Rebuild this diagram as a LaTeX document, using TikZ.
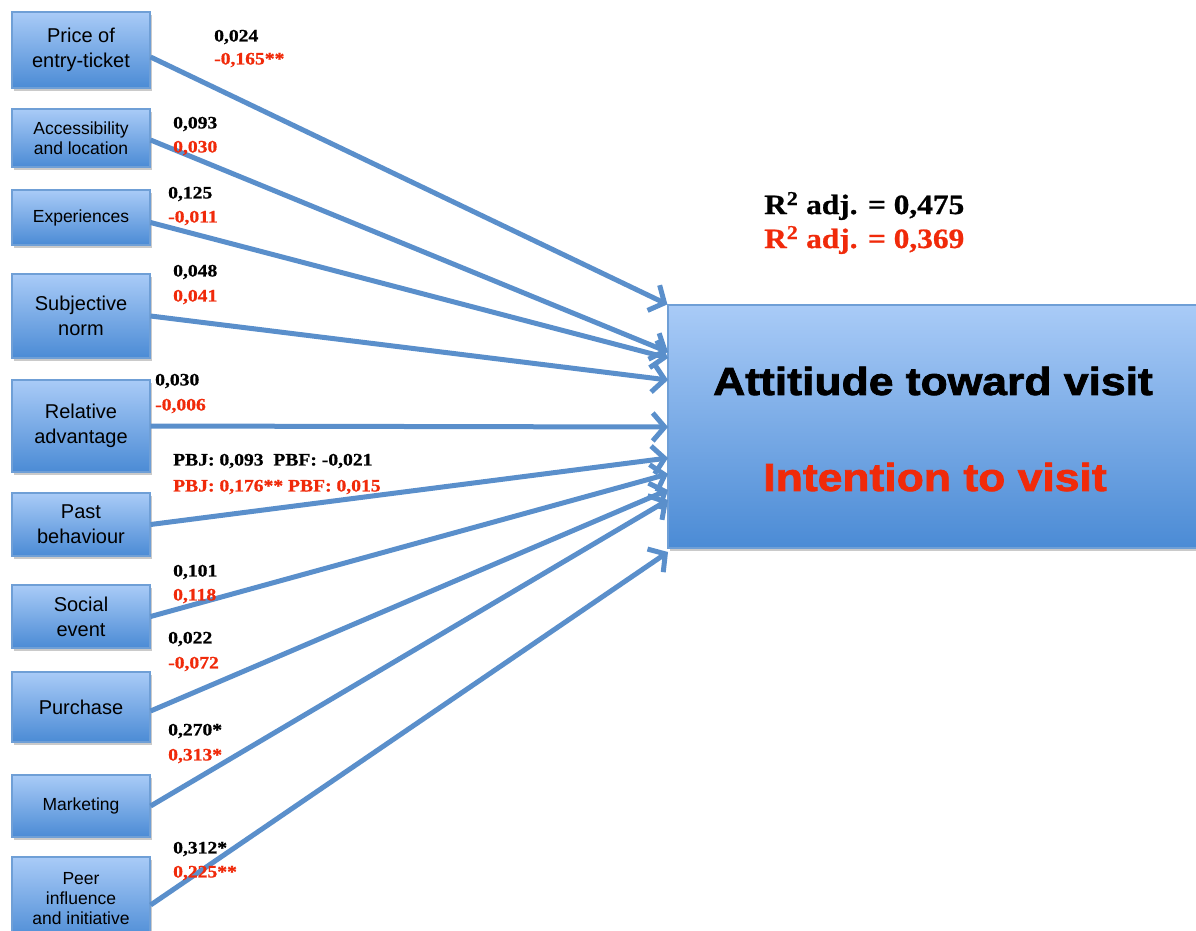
\documentclass[tikz,border=0pt]{standalone}
\usepackage{fontspec}
\setmainfont{Liberation Serif}
\setsansfont{Liberation Sans}
\newfontfamily\numfont[FakeStretch=1.12,BoldFeatures={FakeBold=0.8}]{Liberation Serif}
\newfontfamily\bigfont[FakeStretch=1.14,BoldFeatures={FakeBold=2}]{Liberation Sans}
\usetikzlibrary{arrows.meta,shadows}
\definecolor{boxtop}{HTML}{A9CBF7}
\definecolor{boxbot}{HTML}{4B8BD5}
\definecolor{boxline}{HTML}{6F9FD6}
\definecolor{arr}{HTML}{5A8FCB}
\definecolor{redt}{HTML}{F02A0A}
\begin{document}
\begin{tikzpicture}[x=1pt,y=-1pt,
  box/.style={draw=boxline, line width=1.2pt, top color=boxtop, bottom color=boxbot,
    minimum width=138pt, align=center, inner sep=0pt,
    font=\sffamily\fontsize{20}{25}\selectfont,
    drop shadow={shadow xshift=1.5pt, shadow yshift=-3pt, opacity=0.35, fill=black!60}},
  small/.style={font=\sffamily\fontsize{17.5}{20}\selectfont},
  link/.style={draw=arr, line width=5pt, -{Straight Barb[length=12pt,width=28pt,line width=5pt]}},
  num/.style={anchor=west, inner sep=0pt, font=\numfont\bfseries\fontsize{17.5}{20}\selectfont},
  rednum/.style={num, text=redt}]
\useasboundingbox (0,0) rectangle (1196,930);

% left boxes
\node[box, minimum height=76pt] (p1) at (81,50) {\rule{0pt}{5pt}Price of\\entry-ticket};
\node[box, small, minimum height=58pt] (p2) at (81,138) {Accessibility\\and location};
\node[box, small, minimum height=55pt] (p3) at (81,217.5) {Experiences};
\node[box, minimum height=84pt] (p4) at (81,316) {Subjective\\norm};
\node[box, minimum height=92pt] (p5) at (81,426) {Relative\\advantage};
\node[box, minimum height=63pt] (p6) at (81,524.5) {Past\\behaviour};
\node[box, minimum height=63pt] (p7) at (81,616.5) {Social\\event};
\node[box, minimum height=70pt] (p8) at (81,707) {Purchase};
\node[box, small, minimum height=62pt] (p9) at (81,806) {Marketing};
\node[box, small, minimum height=84pt] (p10) at (81,899) {Peer\\influence\\and initiative};

% big box
\node[box, minimum width=540pt, minimum height=243pt] (big) at (938,426.5) {};
\node[font=\bigfont\bfseries\fontsize{39}{40}\selectfont] (att) at (933,381) {Attitiude toward visit};
\node[font=\bigfont\bfseries\fontsize{39}{40}\selectfont, text=redt] (int) at (935,477) {Intention to visit};

% arrow targets on the big box
\coordinate (t1) at (big.north west);
\coordinate (t2) at (668,352);
\coordinate (t3) at (668,358);
\coordinate (t4) at (668,380);
\coordinate (t5) at (668,427);
\coordinate (t6) at (668,458);
\coordinate (t7) at (668,474);
\coordinate (t8) at (668,490);
\coordinate (t9) at (668,500);
\coordinate (t10) at (668,552);

\draw[link] ([yshift=-7pt]p1.east) -- (t1);
\draw[link] ([yshift=-2pt]p2.east) -- (t2);
\draw[link] ([yshift=-5pt]p3.east) -- (t3);
\draw[link] (p4.east) -- (t4);
\draw[link] (p5.east) -- (t5);
\draw[link] (p6.east) -- (t6);
\draw[link] (p7.east) -- (t7);
\draw[link] ([yshift=-4pt]p8.east) -- (t8);
\draw[link] (p9.east) -- (t9);
\draw[link] ([yshift=-6pt]p10.east) -- (t10);

% coefficient labels
\node[num] (a1) at (214,37) {0,024};
\node[rednum] (b1) at (214,60) {-0,165**};
\node[num] (a2) at (173,124) {0,093};
\node[rednum] (b2) at (173,148) {0,030};
\node[num] (a3) at (168,194) {0,125};
\node[rednum] (b3) at (168,218) {-0,011};
\node[num] (a4) at (173,272) {0,048};
\node[rednum] (b4) at (173,297) {0,041};
\node[num] (a5) at (155,381) {0,030};
\node[rednum] (b5) at (155,406) {-0,006};
\node[num] (a6) at (173,461) {PBJ: 0,093\ \ PBF: -0,021};
\node[rednum] (b6) at (173,487) {PBJ: 0,176** PBF: 0,015};
\node[num] (a7) at (173,572) {0,101};
\node[rednum] (b7) at (173,596) {0,118};
\node[num] (a8) at (168,639) {0,022};
\node[rednum] (b8) at (168,664) {-0,072};
\node[num] (a9) at (168,731) {0,270*};
\node[rednum] (b9) at (168,756) {0,313*};
\node[num] (a10) at (173,849) {0,312*};
\node[rednum] (b10) at (173,873) {0,225**};

% R squared
\node[num, font=\numfont\bfseries\fontsize{28}{30}\selectfont] (r1) at (764,206) {R\textsuperscript{2} adj. = 0,475};
\node[rednum, font=\numfont\bfseries\fontsize{28}{30}\selectfont] (r2) at (764,240) {R\textsuperscript{2} adj. = 0,369};
\end{tikzpicture}
\end{document}
